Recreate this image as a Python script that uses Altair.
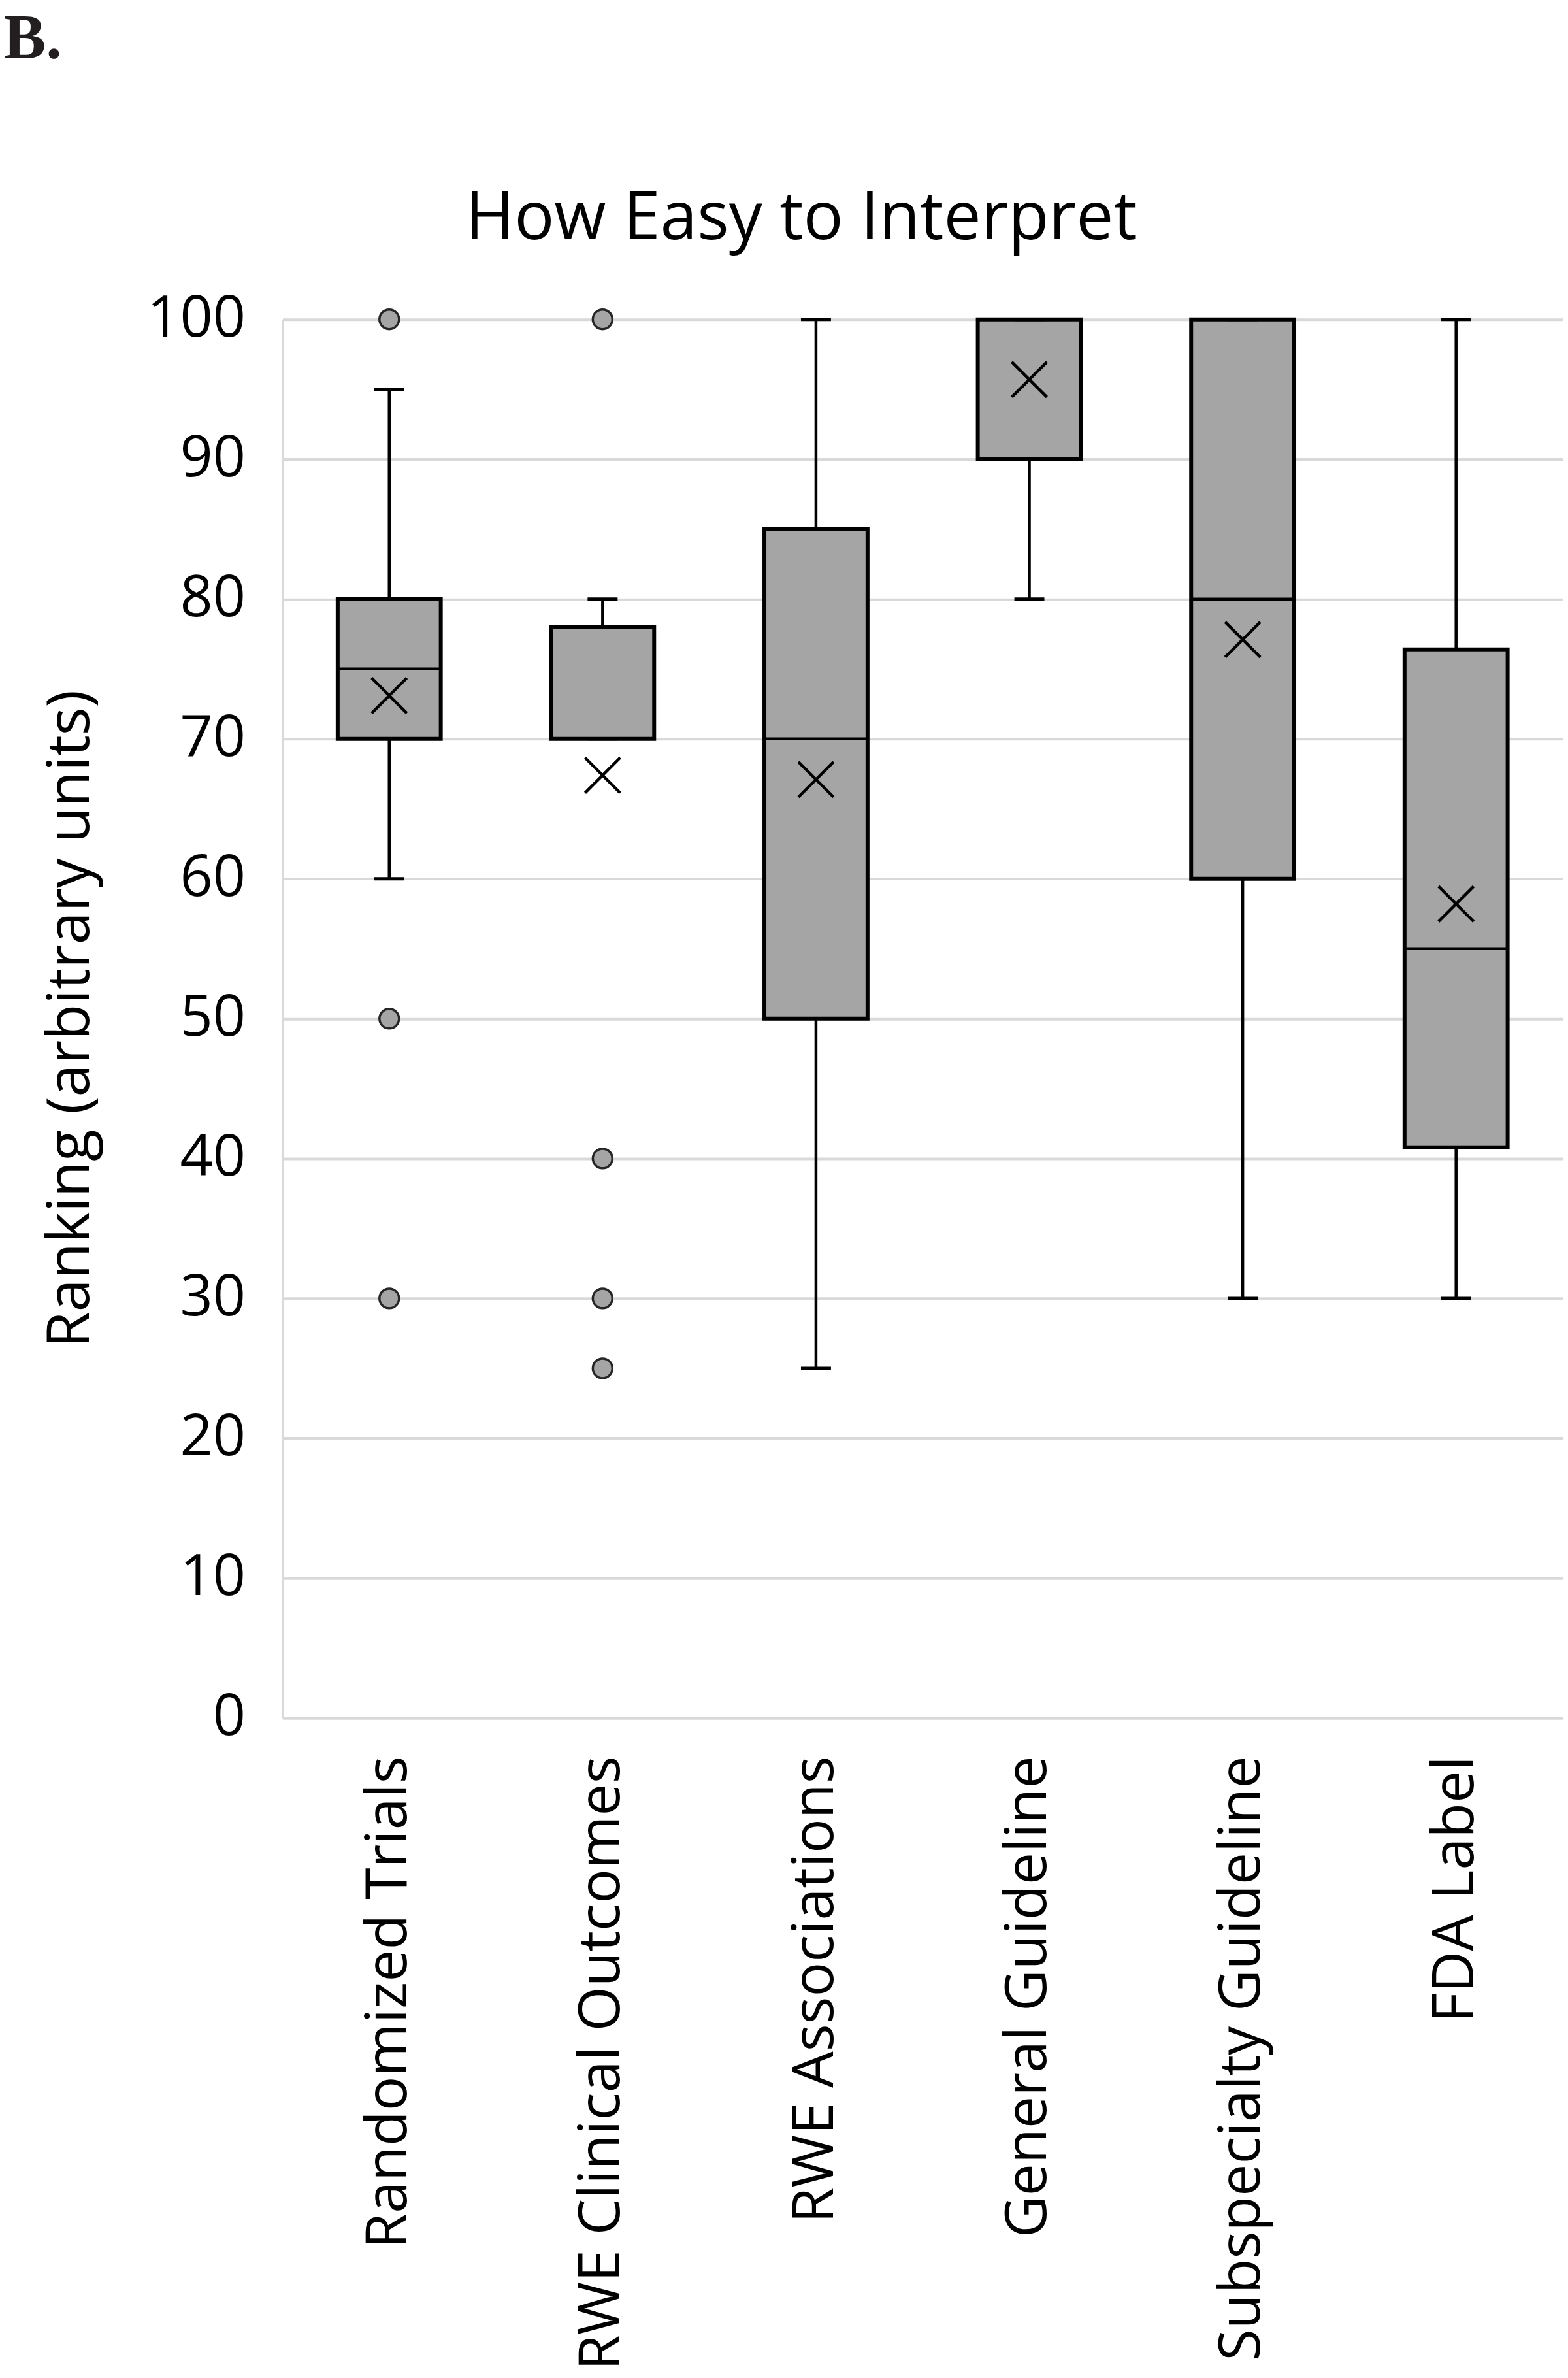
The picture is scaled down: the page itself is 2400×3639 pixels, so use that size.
import altair as alt
import pandas as pd

# ---- data ----
categories = ["Randomized Trials", "RWE Clinical Outcomes", "RWE Associations",
              "General Guideline", "Subspecialty Guideline", "FDA Label"]
whisker_low = [60, 70, 25, 80, 30, 30]
q1 = [70, 70, 50, 90, 60, 40.8]
median = [75, 70, 70, 100, 80, 55]
q3 = [80, 78, 85, 100, 100, 76.4]
whisker_high = [95, 80, 100, 100, 100, 100]
mean = [73.1, 67.4, 67.1, 95.7, 77.1, 58.2]

outlier_cat = ["Randomized Trials", "Randomized Trials", "Randomized Trials",
               "RWE Clinical Outcomes", "RWE Clinical Outcomes",
               "RWE Clinical Outcomes", "RWE Clinical Outcomes"]
outlier_val = [100, 50, 30, 100, 40, 30, 25]

y_ticks = [0, 10, 20, 30, 40, 50, 60, 70, 80, 90, 100]
chart_title = "How Easy to Interpret"
panel_label = "B."
y_title = "Ranking (arbitrary units)"

stats = pd.DataFrame({
    "cat": categories, "lo": whisker_low, "q1": q1, "med": median,
    "q3": q3, "hi": whisker_high, "mean": mean,
})
outliers = pd.DataFrame({"cat": outlier_cat, "val": outlier_val})

FONT = "Open Sans"
GRID = "#D9D9D9"
BOX = "#A5A5A5"

x_enc = alt.X("cat:N", sort=categories,
              scale=alt.Scale(paddingInner=0, paddingOuter=0),
              axis=alt.Axis(title=None, labelAngle=270, labelAlign="right",
                            labelBaseline="middle", labelPadding=58,
                            labelFont=FONT, labelFontSize=88, labelColor="black",
                            labelLimit=3000, labelOverlap=False,
                            ticks=False, tickSize=0,
                            domainColor=GRID, domainWidth=4, grid=False))

y_scale = alt.Scale(domain=[0, 100], nice=False, zero=True)
y_axis = alt.Axis(title=y_title, values=y_ticks, grid=True, gridColor=GRID,
                  gridWidth=4, domainColor=GRID, domainWidth=4,
                  ticks=False, tickSize=0, labelPadding=57,
                  labelFont=FONT, labelFontSize=88, labelColor="black",
                  titleFont=FONT, titleFontSize=90, titleFontWeight="normal",
                  titleColor="black", titleX=-324, titleBaseline="middle",
                  titleAngle=270)

base = alt.Chart(stats)

lower_whisker = base.mark_rule(color="black", strokeWidth=4.5).encode(
    x=x_enc, y=alt.Y("lo:Q", scale=y_scale, axis=y_axis), y2="q1:Q")
upper_whisker = base.mark_rule(color="black", strokeWidth=4.5).encode(
    x=x_enc, y=alt.Y("q3:Q", scale=y_scale), y2="hi:Q")
box = base.mark_bar(size=158, fill=BOX, stroke="black", strokeWidth=6).encode(
    x=x_enc, y=alt.Y("q1:Q", scale=y_scale), y2="q3:Q")
med = base.mark_tick(size=158, thickness=4.5, color="black", opacity=1).encode(
    x=x_enc, y=alt.Y("med:Q", scale=y_scale))
cap_lo = base.mark_tick(size=46, thickness=5, color="black", opacity=1).encode(
    x=x_enc, y=alt.Y("lo:Q", scale=y_scale))
cap_hi = base.mark_tick(size=46, thickness=5, color="black", opacity=1).encode(
    x=x_enc, y=alt.Y("hi:Q", scale=y_scale))
mean_x = base.mark_point(shape="M-1,-1L1,1M-1,1L1,-1", size=2900, filled=False,
                         color="black", strokeWidth=4.5, opacity=1).encode(
    x=x_enc, y=alt.Y("mean:Q", scale=y_scale))
outl = alt.Chart(outliers).mark_point(shape="circle", size=900, filled=True,
                                      fill=BOX, stroke="#262626", strokeWidth=3.5,
                                      opacity=1).encode(
    x=x_enc, y=alt.Y("val:Q", scale=y_scale))

title_txt = alt.Chart(pd.DataFrame({"t": [chart_title]})).mark_text(
    font=FONT, fontSize=102, color="black", align="center", baseline="alphabetic"
).encode(text="t:N", x=alt.value(795), y=alt.value(-123))

label_txt = alt.Chart(pd.DataFrame({"t": [panel_label]})).mark_text(
    font="Liberation Serif", fontSize=98, fontWeight="bold", color="#231F20",
    align="left", baseline="alphabetic"
).encode(text="t:N", x=alt.value(-428), y=alt.value(-400))

chart = alt.layer(
    lower_whisker, upper_whisker, box, med, cap_lo, cap_hi, mean_x, outl,
    title_txt, label_txt
).properties(
    width=1962, height=2143,
    padding={"left": 425, "top": 479, "right": 0, "bottom": 1001},
    autosize=alt.AutoSizeParams(type="none"),
).configure_view(stroke=None).configure(background="white")

chart.save("out.html", embed_options={"renderer": "svg", "actions": False})
